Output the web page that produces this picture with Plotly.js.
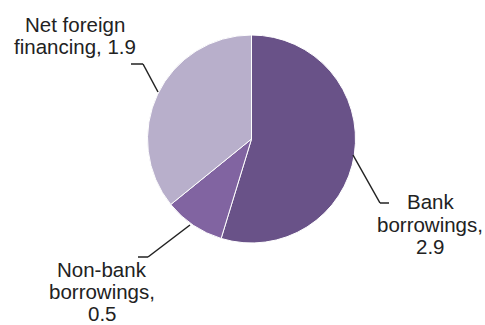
<!DOCTYPE html>
<html>
<head>
<meta charset="utf-8">
<script src="https://cdn.plot.ly/plotly-3.0.1.min.js"></script>
<style>html,body{margin:0;padding:0;background:#fff;}#chart{width:485px;height:325px;}</style>
</head>
<body>
<div id="chart"></div>
<script>
// Data
const categories = ["Bank borrowings", "Non-bank borrowings", "Net foreign financing"];
const values = [2.9, 0.5, 1.9];
const labelLines = [["Bank", "borrowings,"], ["Non-bank", "borrowings,"], ["Net foreign", "financing,"]];
const colors = ["#695288", "#8164a1", "#b8afcb"];

const W = 485, H = 325;
const px = x => x / W;
const py = y => 1 - y / H;

// pie geometry (pixels)
const cx = 251.5, cy = 139, r = 104;

// label placement (pixels)
const labelPos = [
  {x: 430, y: 202, valueOwnLine: true},
  {x: 102, y: 269, valueOwnLine: true},
  {x: 75, y: 25, valueOwnLine: false}
];
const lineGap = 22;

const annotations = [];
categories.forEach((c, i) => {
  let lines = labelLines[i].slice();
  if (labelPos[i].valueOwnLine) lines.push(String(values[i]));
  else lines[lines.length - 1] = lines[lines.length - 1] + " " + values[i];
  lines.forEach((t, k) => {
    annotations.push({
      text: t, xref: "paper", yref: "paper",
      x: px(labelPos[i].x), y: py(labelPos[i].y + k * lineGap),
      xanchor: "center", yanchor: "middle", showarrow: false, borderpad: 0,
      font: {family: "Liberation Sans, Arial, sans-serif", size: 20.5, color: "#222222"}
    });
  });
});

// leader lines (pixel paths)
const leaders = [
  [[353, 155], [380, 203], [389, 203]],
  [[190, 225], [148, 257], [138, 257]],
  [[158, 92], [143, 64], [131, 64]]
];
const shapes = [];
leaders.forEach(pts => {
  for (let k = 0; k < pts.length - 1; k++) {
    shapes.push({type: "line", xref: "paper", yref: "paper",
      x0: px(pts[k][0]), y0: py(pts[k][1]), x1: px(pts[k+1][0]), y1: py(pts[k+1][1]),
      line: {color: "#222222", width: 1.5}});
  }
});

const data = [{
  type: "pie",
  labels: categories,
  values: values,
  sort: false,
  direction: "clockwise",
  rotation: 0,
  textinfo: "none",
  hoverinfo: "label+value",
  marker: {colors: colors, line: {color: "#ffffff", width: 1}},
  domain: {x: [px(cx - r), px(cx + r)], y: [py(cy + r), py(cy - r)]},
  showlegend: false
}];

const layout = {
  width: W, height: H,
  margin: {l: 0, r: 0, t: 0, b: 0},
  paper_bgcolor: "#ffffff",
  showlegend: false,
  annotations: annotations,
  shapes: shapes
};

Plotly.newPlot("chart", data, layout, {displayModeBar: false, staticPlot: true});
</script>
</body>
</html>
